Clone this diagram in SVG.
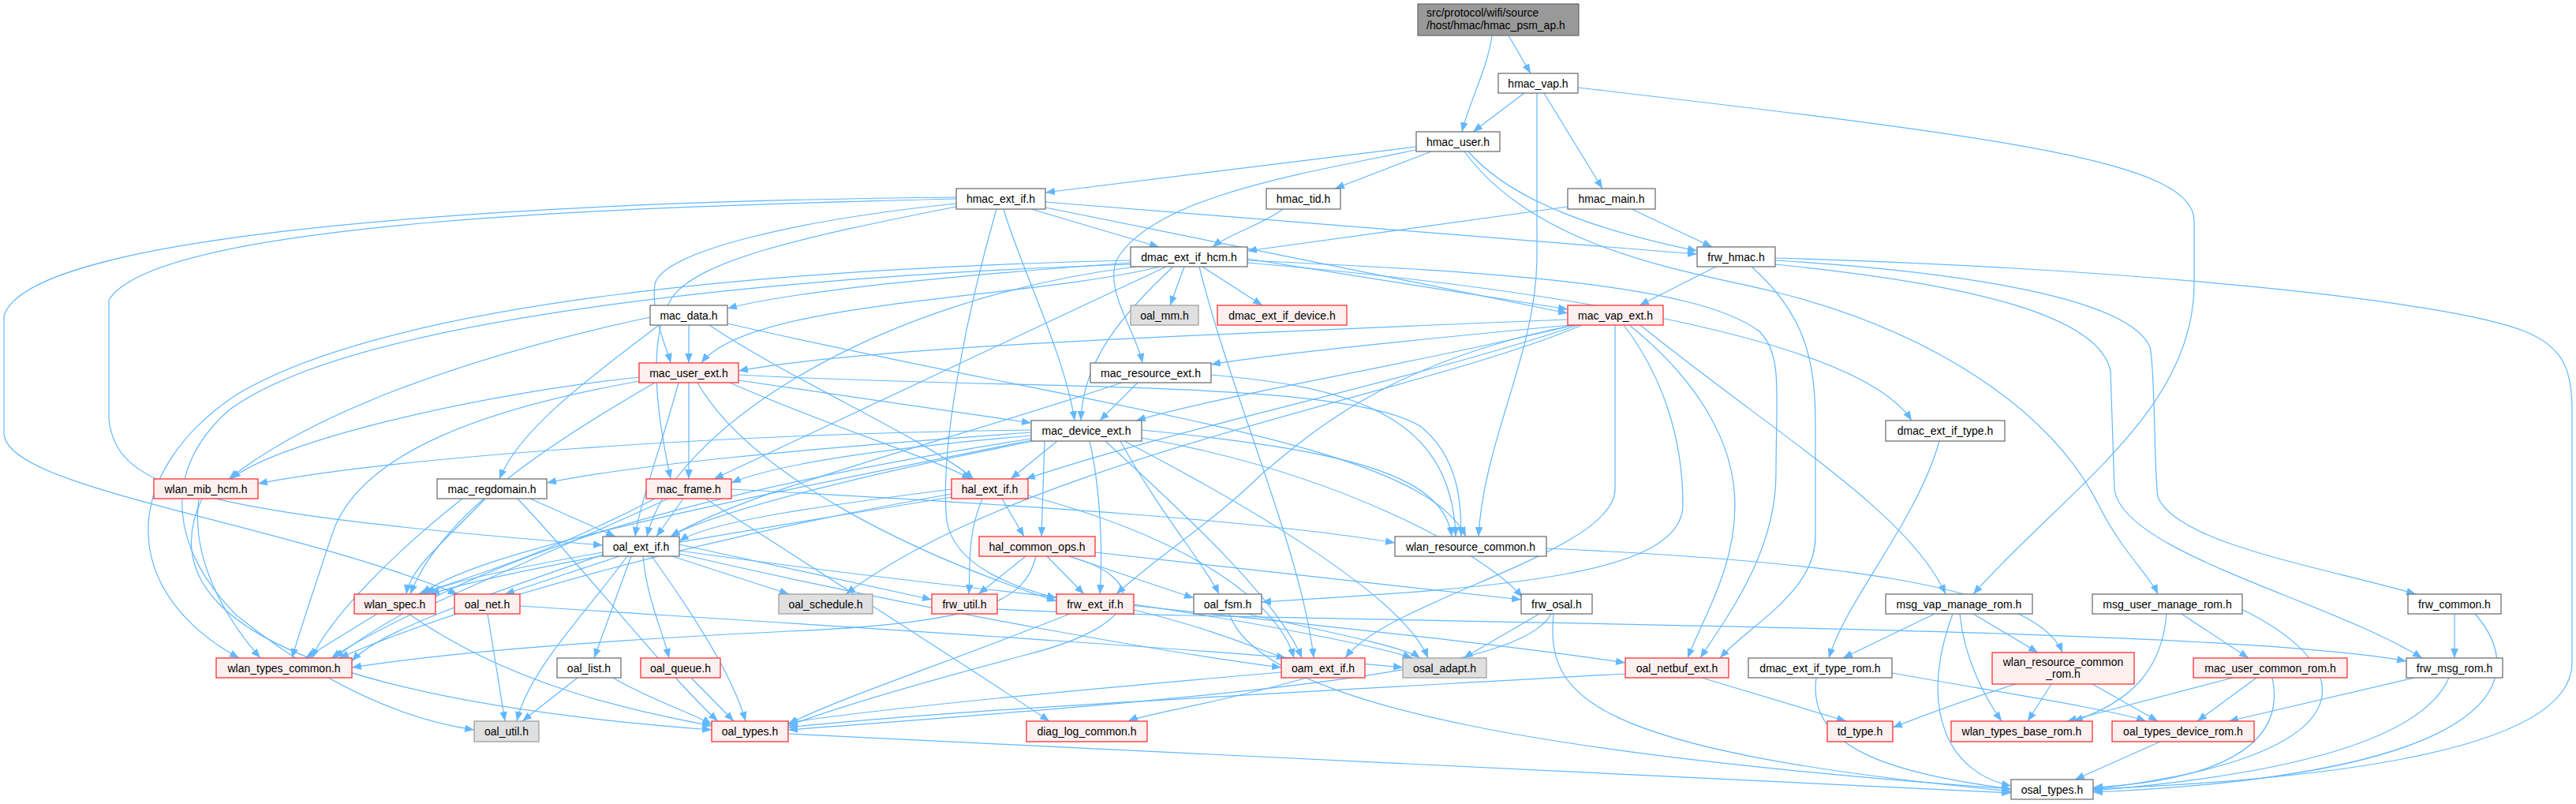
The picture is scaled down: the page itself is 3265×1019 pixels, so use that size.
<svg xmlns="http://www.w3.org/2000/svg" width="3265" height="1019" viewBox="0 0 3265 1019">
<style>
.e path{fill:none;stroke:#63b8ff;stroke-width:1.2;marker-end:url(#a)}
.w{fill:#fff;stroke:#666;stroke-width:1.2}
.r{fill:#fff0f0;stroke:#ff2020;stroke-width:1.2}
.g{fill:#e0e0e0;stroke:#999;stroke-width:1.2}
.k{fill:#999;stroke:#666;stroke-width:1.2}
text{font-family:"Liberation Sans",Arial,sans-serif;font-size:14px;fill:#000;text-anchor:middle}
.l{text-anchor:start}
</style>
<defs>
<marker id="a" viewBox="0 0 10 10" refX="10" refY="5" markerWidth="12" markerHeight="12" markerUnits="userSpaceOnUse" orient="auto"><path d="M0,1 L10,5 L0,9 z" fill="#63b8ff"/></marker>
</defs>
<rect width="3265" height="1019" fill="#fff"/>
<g id="edges" class="e">
<path d="M1891,45 C1886,85 1862,130 1853,167"/>
<path d="M1912,45 L1940,93"/>
<path d="M1932,118 L1867,167"/>
<path d="M1957,118 L2031,239"/>
<path d="M2000,111 C2550,175 2781,205 2781,280 L2781,360 C2781,520 2620,620 2501,753"/>
<path d="M1948,118 L1948,330 C1946,450 1880,560 1874,680"/>
<path d="M1795,186 L1325,244"/>
<path d="M1814,192 L1692,239"/>
<path d="M1861,192 C1920,260 2040,295 2151,318"/>
<path d="M1795,190 C1650,220 1460,250 1415,330 C1400,370 1440,420 1448,460"/>
<path d="M1856,192 C1950,320 2150,345 2250,370 C2450,420 2600,520 2660,640 C2690,700 2725,730 2735,753"/>
<path d="M1626,265 C1600,285 1560,295 1537,313"/>
<path d="M1987,262 L1581,318"/>
<path d="M2068,265 L2170,313"/>
<path d="M1307,265 L1469,313"/>
<path d="M1325,256 L2151,322"/>
<path d="M1325,263 L1987,397"/>
<path d="M1212,258 C1000,280 840,320 830,360 C825,400 845,440 850,460"/>
<path d="M1212,262 C1020,300 880,330 850,380 C815,440 840,560 850,607"/>
<path d="M1272,265 C1290,330 1350,450 1362,533"/>
<path d="M1263,265 C1230,380 1190,560 1200,660 C1210,720 1290,745 1339,758"/>
<path d="M1212,252 C800,262 200,280 138,380 L138,530 C145,620 250,650 764,691"/>
<path d="M1212,250 C700,255 40,290 5,400 L5,550 C10,620 350,660 580,753"/>
<path d="M1501,338 L1483,387"/>
<path d="M1524,338 L1600,387"/>
<path d="M1581,328 L1987,392"/>
<path d="M1433,333 C1200,350 1000,370 922,391"/>
<path d="M1470,338 C1300,380 950,380 889,460"/>
<path d="M1487,338 C1420,400 1372,460 1370,533"/>
<path d="M1478,338 L905,607"/>
<path d="M1581,333 C1900,360 2350,420 2423,533"/>
<path d="M1581,330 C1900,345 2150,360 2230,420 C2260,450 2251,500 2251,600 C2251,700 2190,780 2155,834"/>
<path d="M1433,330 C1000,340 500,380 300,500 C150,600 150,750 303,834"/>
<path d="M1433,335 C1000,350 450,400 290,520 C200,600 220,700 300,780 C400,860 500,910 601,925"/>
<path d="M1440,338 C1100,380 850,550 820,680"/>
<path d="M1520,338 C1560,500 1650,700 1665,834"/>
<path d="M2175,338 L2078,387"/>
<path d="M2220,338 C2290,400 2301,460 2301,540 L2301,680 C2301,750 2220,790 2180,834"/>
<path d="M2250,327 C2700,340 3100,380 3200,420 C3250,440 3260,470 3260,520 L3260,840 C3260,960 2900,990 2653,1000"/>
<path d="M2250,330 C2500,345 2700,380 2725,440 C2732,470 2730,600 2735,630 C2760,690 2950,720 3062,753"/>
<path d="M2250,335 C2500,360 2660,400 2675,470 L2680,620 C2690,700 2950,760 3070,834"/>
<path d="M1987,405 C1500,425 1100,440 936,470"/>
<path d="M1990,412 C1800,430 1600,450 1535,462"/>
<path d="M1995,412 C1800,460 1550,500 1440,533"/>
<path d="M2000,412 C1800,480 1500,540 1300,607"/>
<path d="M2005,412 C1800,500 1300,580 1072,753"/>
<path d="M2047,412 L2047,620 C2047,700 1760,760 1705,834"/>
<path d="M2058,412 C2110,480 2133,560 2133,640 C2133,730 1900,745 1599,763"/>
<path d="M2065,412 C2150,480 2199,560 2199,640 C2199,720 2160,780 2139,834"/>
<path d="M2079,412 C2250,550 2420,650 2466,753"/>
<path d="M1995,412 C1750,460 1650,560 1600,600 C1540,660 1460,710 1415,753"/>
<path d="M873,485 L873,607"/>
<path d="M925,485 C1050,540 1180,580 1231,607"/>
<path d="M936,482 L1307,536"/>
<path d="M936,475 C1300,495 1700,480 1800,540 C1850,580 1852,640 1852,680"/>
<path d="M811,478 C600,500 350,560 293,607"/>
<path d="M860,485 C840,560 810,640 805,680"/>
<path d="M811,483 C600,520 450,580 420,680 C400,740 380,800 370,834"/>
<path d="M830,485 C700,560 560,650 520,753"/>
<path d="M884,485 C950,600 1150,700 1339,762"/>
<path d="M873,412 L873,460"/>
<path d="M899,412 C1000,480 1180,560 1234,607"/>
<path d="M922,410 C1400,520 1800,560 1858,680"/>
<path d="M824,402 C600,450 400,520 290,607"/>
<path d="M835,412 C760,470 660,540 633,607"/>
<path d="M1442,485 L1394,533"/>
<path d="M1535,475 C1700,490 1840,520 1845,680"/>
<path d="M1422,485 C1200,560 950,620 850,680"/>
<path d="M1340,559 L1281,607"/>
<path d="M1307,552 C1100,570 980,590 927,612"/>
<path d="M1307,548 C1000,570 800,590 693,612"/>
<path d="M1307,545 C900,550 500,580 327,613"/>
<path d="M1310,559 C1100,600 900,650 850,680"/>
<path d="M1307,556 C900,620 600,700 424,834"/>
<path d="M1447,545 C1700,570 1830,600 1840,680"/>
<path d="M1324,559 L1320,680"/>
<path d="M1381,559 C1395,620 1398,700 1394,753"/>
<path d="M1401,559 C1500,650 1620,760 1650,834"/>
<path d="M1425,559 C1600,650 1780,760 1810,834"/>
<path d="M1447,555 C1700,600 1880,700 1930,757"/>
<path d="M1420,559 C1470,650 1530,720 1545,753"/>
<path d="M1307,558 C900,640 600,700 535,753"/>
<path d="M1206,620 C1050,640 900,660 861,686"/>
<path d="M1270,632 L1298,680"/>
<path d="M1303,628 C1500,680 1620,760 1640,834"/>
<path d="M1206,626 C900,680 600,760 430,834"/>
<path d="M1206,630 C900,680 650,720 545,753"/>
<path d="M1245,632 C1225,680 1230,720 1228,753"/>
<path d="M1300,705 L1240,753"/>
<path d="M1327,705 L1374,753"/>
<path d="M1355,705 L1513,758"/>
<path d="M1313,705 C1300,760 1250,790 1000,800 C700,815 550,830 446,846"/>
<path d="M1354,705 C1450,730 1460,790 1300,830 C1150,870 1050,900 999,920"/>
<path d="M1388,700 L1928,760"/>
<path d="M800,705 L753,834"/>
<path d="M795,705 C740,780 670,850 655,914"/>
<path d="M785,705 L640,753"/>
<path d="M852,705 L1000,753"/>
<path d="M861,690 L1181,760"/>
<path d="M815,705 C820,760 840,800 848,834"/>
<path d="M826,705 C880,780 930,860 945,914"/>
<path d="M861,698 C1300,760 1800,800 2060,840"/>
<path d="M861,702 C1200,780 1500,830 1624,846"/>
<path d="M764,700 C650,720 560,740 540,753"/>
<path d="M764,703 C600,760 480,800 446,838"/>
<path d="M478,778 L387,834"/>
<path d="M518,778 C650,870 800,900 902,920"/>
<path d="M618,778 L640,914"/>
<path d="M659,768 C1000,790 1500,820 1778,846"/>
<path d="M732,859 L662,914"/>
<path d="M777,859 C820,885 880,905 902,918"/>
<path d="M876,859 L930,914"/>
<path d="M1264,772 C1600,790 2800,790 3050,838"/>
<path d="M1356,778 C1200,840 1050,890 999,918"/>
<path d="M1437,773 C1550,800 1610,830 1630,834"/>
<path d="M1437,766 C1600,790 1750,820 1790,834"/>
<path d="M1558,778 C1600,900 2000,960 2549,1000"/>
<path d="M1580,778 C1680,800 1780,820 1800,834"/>
<path d="M1951,778 L1855,834"/>
<path d="M1966,778 C1930,850 1600,880 999,925"/>
<path d="M1969,778 C1960,880 2000,950 2549,1003"/>
<path d="M2452,778 L2336,834"/>
<path d="M2501,778 L2583,827"/>
<path d="M2484,778 C2490,840 2520,890 2537,914"/>
<path d="M2475,778 C2430,900 2470,980 2549,996"/>
<path d="M2765,778 L2850,834"/>
<path d="M2746,778 C2740,850 2700,890 2628,914"/>
<path d="M2841,772 C3000,850 3000,960 2653,1000"/>
<path d="M3111,778 L3111,834"/>
<path d="M3137,778 C3200,850 3200,980 2653,1004"/>
<path d="M1960,695 C2300,710 2580,740 2614,827"/>
<path d="M866,632 L832,680"/>
<path d="M847,632 C700,700 500,780 420,834"/>
<path d="M927,620 C1300,640 1600,660 1768,688"/>
<path d="M894,632 C1000,700 1250,860 1330,914"/>
<path d="M830,632 C700,700 600,730 530,753"/>
<path d="M672,632 L780,680"/>
<path d="M615,632 C560,690 520,720 515,753"/>
<path d="M586,632 C500,700 420,780 395,834"/>
<path d="M656,632 C740,720 850,860 910,914"/>
<path d="M252,632 C240,720 300,800 330,834"/>
<path d="M256,632 C200,750 300,880 902,925"/>
<path d="M2458,559 C2430,660 2340,760 2318,834"/>
<path d="M1656,859 C1550,890 1450,905 1430,914"/>
<path d="M1624,852 C1300,880 1100,900 999,916"/>
<path d="M2157,859 L2340,914"/>
<path d="M2060,854 C1600,880 1200,900 999,922"/>
<path d="M2302,859 C2290,950 2400,980 2549,1000"/>
<path d="M2398,853 C2550,880 2680,900 2720,914"/>
<path d="M2600,867 L2570,914"/>
<path d="M2652,867 L2735,914"/>
<path d="M2555,867 C2480,890 2430,910 2399,922"/>
<path d="M2830,859 L2620,914"/>
<path d="M2860,859 L2785,914"/>
<path d="M2880,859 C2900,950 2800,990 2653,998"/>
<path d="M3060,859 L2825,914"/>
<path d="M3104,859 C3060,960 2800,990 2653,1002"/>
<path d="M2738,940 L2630,988"/>
<path d="M999,930 C1600,960 2300,990 2549,1005"/>
</g>
<g id="n_root"><rect class="k" x="1797" y="5" width="204" height="40"/><text class="l" x="1808" y="21">src/protocol/wifi/source</text><text class="l" x="1808" y="37">/host/hmac/hmac_psm_ap.h</text></g>
<g id="n_hmac_vap"><rect class="w" x="1899" y="93" width="101" height="25"/><text x="1949.5" y="110.5">hmac_vap.h</text></g>
<g id="n_hmac_user"><rect class="w" x="1795" y="167" width="106" height="25"/><text x="1848" y="184.5">hmac_user.h</text></g>
<g id="n_hmac_ext_if"><rect class="w" x="1212" y="239" width="113" height="26"/><text x="1268.5" y="257">hmac_ext_if.h</text></g>
<g id="n_hmac_tid"><rect class="w" x="1605" y="239" width="94" height="26"/><text x="1652" y="257">hmac_tid.h</text></g>
<g id="n_hmac_main"><rect class="w" x="1987" y="239" width="111" height="26"/><text x="2042.5" y="257">hmac_main.h</text></g>
<g id="n_dmac_ext_if_hcm"><rect class="w" x="1433" y="313" width="148" height="25"/><text x="1507" y="330.5">dmac_ext_if_hcm.h</text></g>
<g id="n_frw_hmac"><rect class="w" x="2151" y="313" width="99" height="25"/><text x="2200.5" y="330.5">frw_hmac.h</text></g>
<g id="n_mac_data"><rect class="w" x="824" y="387" width="98" height="25"/><text x="873" y="404.5">mac_data.h</text></g>
<g id="n_oal_mm"><rect class="g" x="1433" y="387" width="86" height="25"/><text x="1476" y="404.5">oal_mm.h</text></g>
<g id="n_dmac_ext_if_device"><rect class="r" x="1543" y="387" width="164" height="25"/><text x="1625" y="404.5">dmac_ext_if_device.h</text></g>
<g id="n_mac_vap_ext"><rect class="r" x="1987" y="387" width="121" height="25"/><text x="2047.5" y="404.5">mac_vap_ext.h</text></g>
<g id="n_mac_user_ext"><rect class="r" x="810" y="460" width="126" height="25"/><text x="873" y="477.5">mac_user_ext.h</text></g>
<g id="n_mac_resource_ext"><rect class="w" x="1382" y="460" width="153" height="25"/><text x="1458.5" y="477.5">mac_resource_ext.h</text></g>
<g id="n_mac_device_ext"><rect class="w" x="1307" y="533" width="140" height="26"/><text x="1377" y="551">mac_device_ext.h</text></g>
<g id="n_dmac_ext_if_type"><rect class="w" x="2390" y="533" width="151" height="26"/><text x="2465.5" y="551">dmac_ext_if_type.h</text></g>
<g id="n_wlan_mib_hcm"><rect class="r" x="195" y="607" width="132" height="25"/><text x="261" y="624.5">wlan_mib_hcm.h</text></g>
<g id="n_mac_regdomain"><rect class="w" x="554" y="607" width="139" height="25"/><text x="623.5" y="624.5">mac_regdomain.h</text></g>
<g id="n_mac_frame"><rect class="r" x="819" y="607" width="108" height="25"/><text x="873" y="624.5">mac_frame.h</text></g>
<g id="n_hal_ext_if"><rect class="r" x="1206" y="607" width="97" height="25"/><text x="1254.5" y="624.5">hal_ext_if.h</text></g>
<g id="n_oal_ext_if"><rect class="w" x="764" y="680" width="97" height="25"/><text x="812.5" y="697.5">oal_ext_if.h</text></g>
<g id="n_hal_common_ops"><rect class="r" x="1241" y="680" width="147" height="25"/><text x="1314.5" y="697.5">hal_common_ops.h</text></g>
<g id="n_wlan_resource_common"><rect class="w" x="1768" y="680" width="192" height="25"/><text x="1864" y="697.5">wlan_resource_common.h</text></g>
<g id="n_wlan_spec"><rect class="r" x="449" y="753" width="103" height="25"/><text x="500.5" y="770.5">wlan_spec.h</text></g>
<g id="n_oal_net"><rect class="r" x="576" y="753" width="83" height="25"/><text x="617.5" y="770.5">oal_net.h</text></g>
<g id="n_oal_schedule"><rect class="g" x="987" y="753" width="119" height="25"/><text x="1046.5" y="770.5">oal_schedule.h</text></g>
<g id="n_frw_util"><rect class="r" x="1181" y="753" width="83" height="25"/><text x="1222.5" y="770.5">frw_util.h</text></g>
<g id="n_frw_ext_if"><rect class="r" x="1339" y="753" width="98" height="25"/><text x="1388" y="770.5">frw_ext_if.h</text></g>
<g id="n_oal_fsm"><rect class="w" x="1513" y="753" width="86" height="25"/><text x="1556" y="770.5">oal_fsm.h</text></g>
<g id="n_frw_osal"><rect class="w" x="1928" y="753" width="90" height="25"/><text x="1973" y="770.5">frw_osal.h</text></g>
<g id="n_msg_vap_manage_rom"><rect class="w" x="2390" y="753" width="186" height="25"/><text x="2483" y="770.5">msg_vap_manage_rom.h</text></g>
<g id="n_msg_user_manage_rom"><rect class="w" x="2652" y="753" width="190" height="25"/><text x="2747" y="770.5">msg_user_manage_rom.h</text></g>
<g id="n_frw_common"><rect class="w" x="3052" y="753" width="118" height="25"/><text x="3111" y="770.5">frw_common.h</text></g>
<g id="n_wlan_types_common"><rect class="r" x="274" y="834" width="172" height="25"/><text x="360" y="851.5">wlan_types_common.h</text></g>
<g id="n_oal_list"><rect class="w" x="706" y="834" width="81" height="25"/><text x="746.5" y="851.5">oal_list.h</text></g>
<g id="n_oal_queue"><rect class="r" x="812" y="834" width="101" height="25"/><text x="862.5" y="851.5">oal_queue.h</text></g>
<g id="n_oam_ext_if"><rect class="r" x="1624" y="834" width="106" height="25"/><text x="1677" y="851.5">oam_ext_if.h</text></g>
<g id="n_osal_adapt"><rect class="g" x="1778" y="834" width="106" height="25"/><text x="1831" y="851.5">osal_adapt.h</text></g>
<g id="n_oal_netbuf_ext"><rect class="r" x="2060" y="834" width="131" height="25"/><text x="2125.5" y="851.5">oal_netbuf_ext.h</text></g>
<g id="n_dmac_ext_if_type_rom"><rect class="w" x="2216" y="834" width="182" height="25"/><text x="2307" y="851.5">dmac_ext_if_type_rom.h</text></g>
<g id="n_wlan_resource_common_rom"><rect class="r" x="2525" y="827" width="180" height="40"/><text x="2615" y="844">wlan_resource_common</text><text x="2615" y="859">_rom.h</text></g>
<g id="n_mac_user_common_rom"><rect class="r" x="2780" y="834" width="195" height="25"/><text x="2877.5" y="851.5">mac_user_common_rom.h</text></g>
<g id="n_frw_msg_rom"><rect class="w" x="3050" y="834" width="122" height="25"/><text x="3111" y="851.5">frw_msg_rom.h</text></g>
<g id="n_oal_util"><rect class="g" x="601" y="914" width="82" height="26"/><text x="642" y="932">oal_util.h</text></g>
<g id="n_oal_types"><rect class="r" x="902" y="914" width="97" height="26"/><text x="950.5" y="932">oal_types.h</text></g>
<g id="n_diag_log_common"><rect class="r" x="1301" y="914" width="153" height="26"/><text x="1377.5" y="932">diag_log_common.h</text></g>
<g id="n_td_type"><rect class="r" x="2316" y="914" width="83" height="26"/><text x="2357.5" y="932">td_type.h</text></g>
<g id="n_wlan_types_base_rom"><rect class="r" x="2473" y="914" width="179" height="26"/><text x="2562.5" y="932">wlan_types_base_rom.h</text></g>
<g id="n_oal_types_device_rom"><rect class="r" x="2677" y="914" width="180" height="26"/><text x="2767" y="932">oal_types_device_rom.h</text></g>
<g id="n_osal_types"><rect class="w" x="2549" y="988" width="104" height="25"/><text x="2601" y="1005.5">osal_types.h</text></g>
</svg>
